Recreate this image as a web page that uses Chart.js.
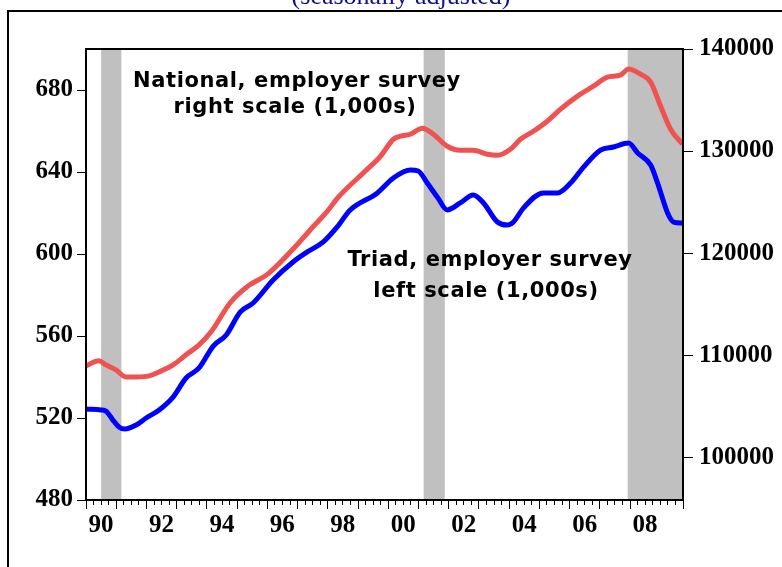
<!DOCTYPE html>
<html>
<head>
<meta charset="utf-8">
<script src="https://cdn.jsdelivr.net/npm/chart.js@4"></script>
<style>
  html, body { margin: 0; padding: 0; background: #fff; }
  canvas { display: block; }
</style>
</head>
<body>
<canvas id="c" width="782" height="567"></canvas>
<script>
// Triad, employer survey (left scale, 1,000s)
const triadYears = [1990.00, 1990.50, 1990.66, 1990.89, 1991.09, 1991.29, 1991.66, 1991.99, 1992.42, 1992.88,
  1993.31, 1993.74, 1994.21, 1994.64, 1995.10, 1995.53, 1996.19, 1996.85, 1997.32, 1997.85,
  1998.31, 1998.74, 1999.64, 2000.17, 2000.73, 2000.99, 2001.29, 2001.62, 2001.95, 2002.38,
  2002.81, 2003.15, 2003.61, 2003.94, 2004.14, 2004.47, 2005.13, 2005.60, 2006.03, 2006.46,
  2007.02, 2007.45, 2007.95, 2008.25, 2008.68, 2008.91, 2009.24, 2009.44, 2009.74];
const triad = [524.4, 523.9, 523.4, 519.0, 515.6, 514.6, 516.6, 520.0, 523.9, 530.2,
  539.5, 544.4, 555.1, 560.5, 571.7, 576.1, 587.3, 596.1, 601.0, 605.9,
  613.2, 621.5, 629.8, 637.1, 641.0, 640.5, 634.6, 627.8, 621.5, 624.9,
  628.8, 624.9, 615.6, 614.1, 615.6, 622.4, 629.8, 629.8, 634.6, 642.4,
  650.7, 652.2, 654.1, 649.3, 643.4, 634.6, 620.0, 615.6, 615.1];

// National, employer survey (right scale, 1,000s)
const nationalYears = [1990.00, 1990.43, 1990.66, 1990.99, 1991.32, 1991.66, 1992.09, 1992.42, 1992.88, 1993.31,
  1993.74, 1994.14, 1994.77, 1995.33, 1995.99, 1996.42, 1996.99, 1997.52, 1997.98, 1998.34,
  1999.30, 1999.74, 2000.17, 2000.40, 2000.73, 2001.13, 2001.49, 2001.95, 2002.38, 2002.81,
  2003.28, 2003.61, 2004.04, 2004.37, 2004.80, 2005.26, 2005.70, 2006.26, 2006.79, 2007.25,
  2007.68, 2007.95, 2008.34, 2008.68, 2009.01, 2009.34, 2009.74];
const national = [108944, 109435, 109042, 108550, 107862, 107862, 107961, 108354, 109042, 110025,
  111007, 112285, 115135, 116708, 117887, 119066, 120835, 122604, 124079, 125455,
  128206, 129484, 131155, 131450, 131646, 132236, 131646, 130467, 130074, 130074,
  129681, 129582, 130172, 131155, 131941, 132924, 134103, 135381, 136364, 137248,
  137445, 138034, 137543, 136757, 134398, 132138, 130663];

// recession shading
const recessionStart = [1990.50, 2001.17, 2007.92];
const recessionEnd = [1991.17, 2001.87, 2009.75];

const leftTicks = [480, 520, 560, 600, 640, 680];
const rightTicks = [100000, 110000, 120000, 130000, 140000];

const pts = (xs, ys) => xs.map((x, i) => ({ x: x, y: ys[i] }));

const decor = {
  id: 'decor',
  beforeDatasetsDraw(chart) {
    const { ctx, chartArea, scales } = chart;
    ctx.save();
    ctx.fillStyle = '#c0c0c0';
    for (let i = 0; i < recessionStart.length; i++) {
      const x0 = scales.x.getPixelForValue(recessionStart[i]);
      const x1 = scales.x.getPixelForValue(recessionEnd[i]);
      ctx.fillRect(x0, chartArea.top, x1 - x0, chartArea.bottom - chartArea.top);
    }
    ctx.restore();
  },
  afterDraw(chart) {
    const { ctx, chartArea } = chart;
    ctx.save();
    // plot frame
    ctx.strokeStyle = '#000';
    ctx.lineWidth = 2;
    ctx.strokeRect(chartArea.left, chartArea.top, chartArea.right - chartArea.left, chartArea.bottom - chartArea.top);
    // outer border
    ctx.beginPath();
    ctx.moveTo(8, 567);
    ctx.lineTo(8, 11);
    ctx.lineTo(782, 11);
    ctx.stroke();
    // clipped subtitle
    ctx.fillStyle = '#10108a';
    ctx.font = '26px "Liberation Serif"';
    ctx.textAlign = 'center';
    ctx.textBaseline = 'alphabetic';
    ctx.fillText('(seasonally adjusted)', 401, 4);
    // annotations
    ctx.fillStyle = '#000';
    ctx.font = 'bold 21px "DejaVu Sans"';
    if ('letterSpacing' in ctx) ctx.letterSpacing = '0.6px';
    ctx.fillText('National, employer survey', 297, 87);
    ctx.fillText('right scale (1,000s)', 295, 113);
    ctx.fillText('Triad, employer survey', 490, 266);
    ctx.fillText('left scale (1,000s)', 486, 297);
    ctx.restore();
  }
};

Chart.defaults.font.family = '"Liberation Serif", serif';

new Chart(document.getElementById('c'), {
  type: 'line',
  data: {
    datasets: [{
      label: 'National',
      data: pts(nationalYears, national),
      yAxisID: 'yR',
      borderColor: '#f05252',
      borderWidth: 5,
      pointRadius: 0,
      cubicInterpolationMode: 'monotone',
      fill: false
    }, {
      label: 'Triad',
      data: pts(triadYears, triad),
      yAxisID: 'yL',
      borderColor: '#0000ff',
      borderWidth: 5,
      pointRadius: 0,
      cubicInterpolationMode: 'monotone',
      fill: false
    }]
  },
  options: {
    responsive: false,
    animation: false,
    layout: { padding: { top: 49, left: 0, right: 0, bottom: 0 } },
    plugins: { legend: { display: false }, tooltip: { enabled: false } },
    scales: {
      xMinor: {
        type: 'linear', position: 'bottom', weight: 0,
        min: 1990, max: 2009.75,
        ticks: { stepSize: 0.25, autoSkip: false, callback: () => '' },
        grid: { drawOnChartArea: false, tickLength: 5, color: '#000', tickWidth: 1 },
        border: { display: false },
        afterFit(s) { s.height = 0; }
      },
      x: {
        type: 'linear', position: 'bottom', weight: 1,
        min: 1990, max: 2009.75,
        ticks: {
          stepSize: 1, autoSkip: false, maxRotation: 0, labelOffset: 15, padding: 2,
          color: '#000', font: { size: 25, weight: 'bold' },
          callback: v => (v % 2 === 0 && v < 2009.5) ? String(v % 100).padStart(2, '0') : ''
        },
        grid: { drawOnChartArea: false, tickLength: 9, color: '#000', tickWidth: 1 },
        border: { display: true, color: '#000', width: 2 },
        afterFit(s) { s.height = 67; }
      },
      yL: {
        position: 'left', min: 480, max: 700,
        afterBuildTicks(s) { s.ticks = leftTicks.map(v => ({ value: v })); },
        ticks: { color: '#000', padding: 4, font: { size: 25, weight: 'bold' } },
        grid: { drawOnChartArea: false, tickLength: 9, color: '#000' },
        border: { display: true, color: '#000', width: 2 },
        afterFit(s) { s.width = 86; }
      },
      yR: {
        position: 'right', min: 95800, max: 140000,
        afterBuildTicks(s) { s.ticks = rightTicks.map(v => ({ value: v })); },
        ticks: { color: '#000', padding: 6, font: { size: 25, weight: 'bold' }, callback: v => String(v) },
        grid: { drawOnChartArea: false, tickLength: 10, color: '#000' },
        border: { display: true, color: '#000', width: 2 },
        afterFit(s) { s.width = 99; }
      }
    }
  },
  plugins: [decor]
});
</script>
</body>
</html>
